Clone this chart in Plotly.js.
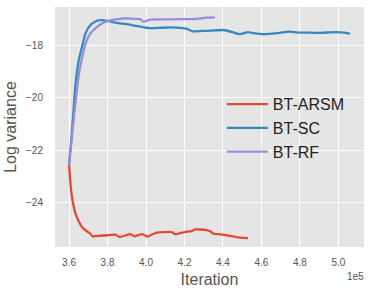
<!DOCTYPE html>
<html>
<head>
<meta charset="utf-8">
<script src="https://cdn.plot.ly/plotly-3.0.1.min.js"></script>
<style>html,body{margin:0;padding:0;background:#fff;}#chart{width:372px;height:294px;}</style>
</head>
<body>
<div id="chart"></div>
<script>
// x in units of 1e5 iterations
const arsmX = [3.600,3.609,3.618,3.635,3.652,3.669,3.686,3.700,3.712,3.721,3.760,3.798,3.841,3.863,3.890,3.919,3.939,3.960,3.979,4.008,4.030,4.057,4.090,4.135,4.151,4.180,4.220,4.235,4.254,4.285,4.315,4.335,4.349,4.380,4.418,4.470,4.530];
const arsmY = [-22.57,-23.40,-23.91,-24.45,-24.74,-24.95,-25.06,-25.13,-25.20,-25.29,-25.27,-25.25,-25.23,-25.32,-25.26,-25.21,-25.29,-25.25,-25.21,-25.30,-25.22,-25.15,-25.13,-25.13,-25.21,-25.16,-25.10,-25.10,-25.03,-25.03,-25.05,-25.10,-25.19,-25.21,-25.25,-25.32,-25.36];

const scX = [3.600,3.617,3.634,3.651,3.669,3.686,3.712,3.746,3.772,3.800,3.850,3.920,3.970,4.022,4.070,4.125,4.180,4.210,4.240,4.280,4.315,4.400,4.450,4.487,4.530,4.560,4.607,4.680,4.745,4.790,4.830,4.900,4.986,5.030,5.060];
const scY = [-22.57,-21.10,-19.44,-18.55,-18.00,-17.52,-17.20,-17.04,-17.02,-17.05,-17.13,-17.20,-17.27,-17.33,-17.32,-17.30,-17.32,-17.35,-17.45,-17.44,-17.43,-17.40,-17.48,-17.56,-17.48,-17.52,-17.56,-17.52,-17.46,-17.50,-17.50,-17.51,-17.48,-17.50,-17.54];

const rfX = [3.600,3.617,3.635,3.652,3.669,3.686,3.712,3.747,3.781,3.816,3.850,3.884,3.930,3.970,3.980,3.990,4.022,4.070,4.125,4.200,4.246,4.290,4.315,4.358];
const rfY = [-22.57,-21.35,-20.08,-19.06,-18.42,-17.91,-17.52,-17.27,-17.11,-17.03,-16.99,-16.95,-16.97,-16.98,-17.05,-17.08,-17.00,-16.99,-16.99,-16.98,-16.98,-16.95,-16.93,-16.92];

const seriesNames = ['BT-ARSM','BT-SC','BT-RF'];
const xTickVals = [3.6,3.8,4.0,4.2,4.4,4.6,4.8,5.0];
const xTickText = ['3.6','3.8','4.0','4.2','4.4','4.6','4.8','5.0'];
const yTickVals = [-24,-22,-20,-18];
const yTickText = ['\u221224','\u221222','\u221220','\u221218'];

const colors = ['#E24A33','#348ABD','#988ED5'];
const font = 'Liberation Sans, Arial, sans-serif';

const traces = [
  {x: arsmX, y: arsmY, name: seriesNames[0]},
  {x: scX, y: scY, name: seriesNames[1]},
  {x: rfX, y: rfY, name: seriesNames[2]}
].map((t, i) => Object.assign(t, {type: 'scatter', mode: 'lines', line: {color: colors[i], width: 2.3, shape: 'spline', smoothing: 0.5}}));

const layout = {
  width: 372, height: 294,
  margin: {l: 55, r: 8, t: 7, b: 47},
  paper_bgcolor: '#ffffff',
  plot_bgcolor: '#E5E5E5',
  font: {family: font, color: '#555555'},
  showlegend: true,
  legend: {
    x: 0.54, y: 0.495, xanchor: 'left', yanchor: 'middle',
    itemwidth: 41,
    bgcolor: 'rgba(0,0,0,0)', borderwidth: 0,
    font: {family: font, size: 16, color: '#222222'}
  },
  xaxis: {
    range: [3.527, 5.133],
    tickvals: xTickVals, ticktext: xTickText,
    ticks: 'outside', ticklen: 6, tickcolor: 'rgba(0,0,0,0)',
    tickfont: {family: font, size: 10, color: '#555555'},
    showgrid: true, gridcolor: '#ffffff', gridwidth: 1,
    zeroline: false, showline: false,
    title: {text: 'Iteration', font: {family: font, size: 16, color: '#555555'}, standoff: 6}
  },
  yaxis: {
    range: [-25.70, -16.52],
    tickvals: yTickVals, ticktext: yTickText,
    ticks: 'outside', ticklen: 9, tickcolor: 'rgba(0,0,0,0)',
    tickfont: {family: font, size: 10, color: '#555555'},
    showgrid: true, gridcolor: '#ffffff', gridwidth: 1,
    zeroline: false, showline: false,
    title: {text: 'Log variance', font: {family: font, size: 16, color: '#555555'}, standoff: 5}
  },
  annotations: [{
    text: '1e5', xref: 'paper', yref: 'paper', x: 0.971, y: -0.122,
    xanchor: 'center', yanchor: 'middle', showarrow: false,
    font: {family: font, size: 10, color: '#555555'}
  }]
};

Plotly.newPlot('chart', traces, layout, {displayModeBar: false, staticPlot: true});
</script>
</body>
</html>
